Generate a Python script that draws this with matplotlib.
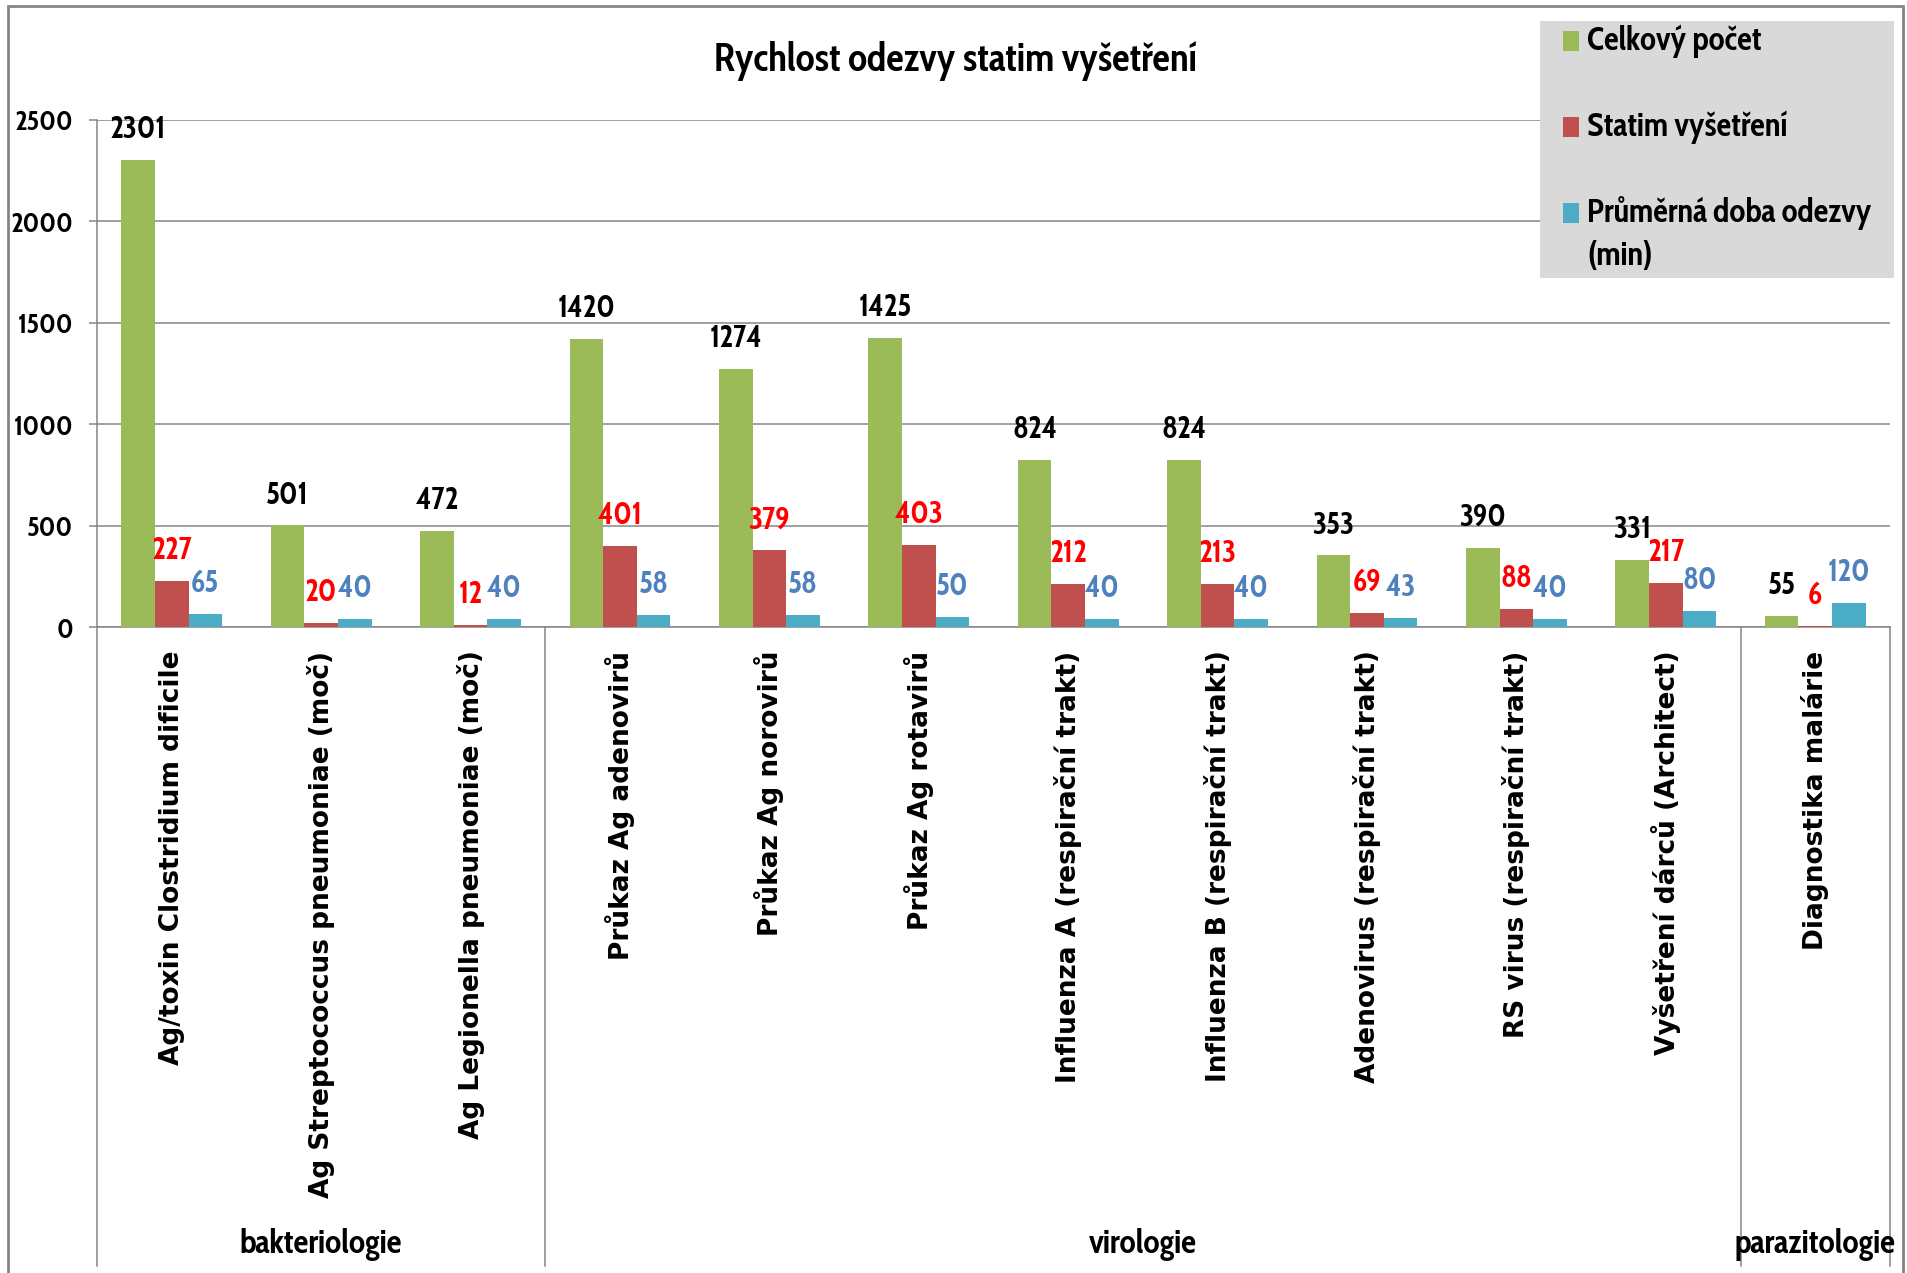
import numpy as np
import matplotlib.pyplot as plt
from matplotlib.patches import Rectangle
from matplotlib.transforms import blended_transform_factory

# Data
categories = ['Ag/toxin Clostridium dificile', 'Ag Streptococcus pneumoniae (moč)',
              'Ag Legionella pneumoniae (moč)', 'Průkaz Ag adenovirů', 'Průkaz Ag norovirů',
              'Průkaz Ag rotavirů', 'Influenza A (respirační trakt)', 'Influenza B (respirační trakt)',
              'Adenovirus (respirační trakt)', 'RS virus (respirační trakt)',
              'Vyšetření dárců (Architect)', 'Diagnostika malárie']
groups = ['bakteriologie', 'virologie', 'parazitologie']
group_sizes = [3, 8, 1]
celkovy_pocet = [2301, 501, 472, 1420, 1274, 1425, 824, 824, 353, 390, 331, 55]
statim = [227, 20, 12, 401, 379, 403, 212, 213, 69, 88, 217, 6]
doba_odezvy = [65, 40, 40, 58, 58, 50, 40, 40, 43, 40, 80, 120]
series_names = ['Celkový počet', 'Statim vyšetření', 'Průměrná doba odezvy\n(min)']

colors = ['#9BBB59', '#C0504D', '#4BACC6']
label_colors = ['black', '#FF0000', '#4F81BD']
grey = '#868686'
narrow = ['Cabin Condensed', 'Carlito', 'DejaVu Sans']

W, H = 1908, 1273
fig = plt.figure(figsize=(W / 100, H / 100), dpi=100)
ax = fig.add_axes([97 / W, 1 - 627 / H, (1890 - 97) / W, (627 - 120) / H])

x = np.arange(len(categories))
w = 0.225
for i, vals in enumerate([celkovy_pocet, statim, doba_odezvy]):
    bars = ax.bar(x + (i - 1) * w, vals, w, color=colors[i], linewidth=0, zorder=3)
    for b, v in zip(bars, vals):
        ax.annotate(str(v), (b.get_x() + b.get_width() / 2, v), xytext=(0, 21.5),
                    textcoords='offset points', ha='center', va='center',
                    color=label_colors[i], fontsize=22, fontweight='bold', family=narrow)

ax.set_xlim(-0.5, len(categories) - 0.5)
ax.set_ylim(0, 2500)
ax.set_yticks(range(0, 2501, 500))
ax.yaxis.grid(True, color=grey, lw=1.1)
ax.set_axisbelow(True)
for s in ['top', 'right']:
    ax.spines[s].set_visible(False)
for s in ['left', 'bottom']:
    ax.spines[s].set_color(grey)
    ax.spines[s].set_linewidth(1.1)
ax.tick_params(axis='y', length=6, width=1.1, color=grey, pad=11)
for t in ax.get_yticklabels():
    t.set_fontfamily(narrow)
    t.set_fontsize(20)
    t.set_fontweight('bold')

ax.set_xticks(x)
ax.set_xticklabels(categories, rotation=90, fontsize=19, fontweight='bold', family='DejaVu Sans')
ax.tick_params(axis='x', length=0, pad=17)

# group separators and labels
tr = blended_transform_factory(ax.transData, ax.transAxes)
edges = np.concatenate([[0], np.cumsum(group_sizes)]) - 0.5
for e in edges:
    ax.plot([e, e], [0, -1.26], transform=tr, color=grey, lw=1.1, clip_on=False)
for g, a, b in zip(groups, edges[:-1], edges[1:]):
    ax.text((a + b) / 2, -1.217, g, transform=tr, ha='center', va='center',
            fontsize=24, fontweight='bold', family=narrow)

# title
fig.text(955 / W, 1 - 61 / H, 'Rychlost odezvy statim vyšetření', ha='center', va='center',
         fontsize=28, fontweight='bold', family=narrow)

# legend
fig.add_artist(Rectangle((1540 / W, 1 - 278 / H), 354 / W, 257 / H,
                         transform=fig.transFigure, facecolor='#D9D9D9', edgecolor='none', zorder=5))
leg_y = [41, 127, 213]
for i, name in enumerate(series_names):
    fig.add_artist(Rectangle((1563 / W, 1 - (leg_y[i] + 10) / H), 16 / W, 20 / H,
                             transform=fig.transFigure, facecolor=colors[i], edgecolor='none', zorder=6))
    for k, line in enumerate(name.split('\n')):
        fig.text(1587 / W, 1 - (leg_y[i] + 44 * k) / H, line, ha='left', va='center', fontsize=23.5,
                 fontweight='bold', family=narrow, zorder=6)

# outer frame
fig.add_artist(Rectangle((8 / W, -0.01), (1903 - 8) / W, 1.01 - 6 / H, transform=fig.transFigure,
                         facecolor='none', edgecolor=grey, lw=2))

fig.savefig('out.png', dpi=100)
